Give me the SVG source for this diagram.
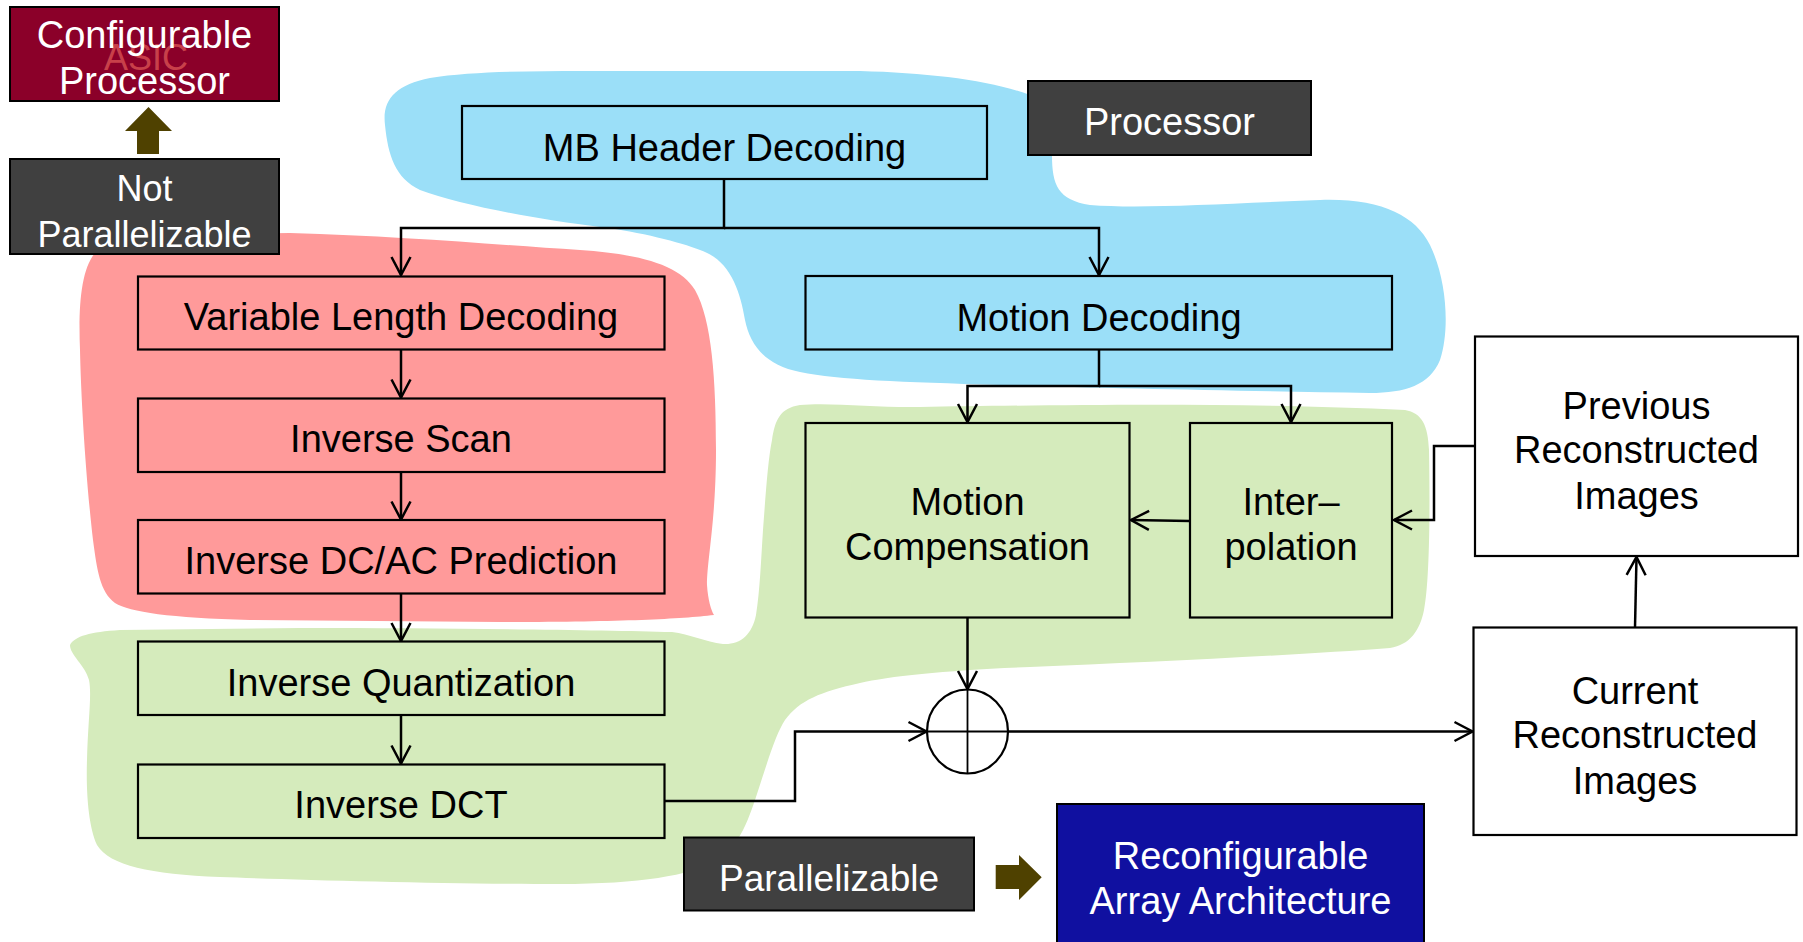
<svg xmlns="http://www.w3.org/2000/svg" width="1803" height="942" viewBox="0 0 1803 942">
<style>
text{font-family:"Liberation Sans",Arial,sans-serif;text-anchor:middle}
.lbl{font-size:38px;fill:#000}
.wl{fill:#fff}
.box{stroke:#000;stroke-width:2.2}
.blue{fill:#9BDFF8}
.red{fill:#FF9A9A}
.green{fill:#D5EBBC}
.white{fill:#fff}
.dark{fill:#404040;stroke:#000;stroke-width:2}
.con{fill:none;stroke:#000;stroke-width:2.5}
.arr{marker-end:url(#a)}
</style>
<defs>
<marker id="a" viewBox="-21 -12 24 24" markerWidth="24" markerHeight="24" refX="0" refY="0" orient="auto" markerUnits="userSpaceOnUse">
<path d="M-18,-9.5 L0,0 L-18,9.5" fill="none" stroke="#000" stroke-width="2.5"/>
</marker>
</defs>
<g id="regions">
<path id="region-processor" class="blue" d="M385,125 C382,100 395,85 430,78 C480,70 560,71 620,71 L860,71 C930,73 990,80 1030,95 L1052,155 C1052,185 1058,200 1090,205 C1140,209 1220,204 1320,200 C1380,198 1415,215 1430,245 C1447,280 1450,330 1440,360 C1430,385 1405,393 1370,393 C1250,391 1100,388 1000,385 C900,382 840,380 800,372 C765,365 750,345 745,320 C740,290 730,260 700,250 C680,242 640,232 600,227 C540,220 460,205 420,190 C395,178 388,155 385,125 Z"/>
<path id="region-asic" class="red" d="M80,350 C78,300 82,262 100,248 C115,238 150,235 200,234 L290,233 C400,236 500,245 580,250 C640,254 680,265 695,290 C712,320 716,380 716,450 C716,520 707,560 707,585 C708,600 711,610 714,615 C680,619 620,622 500,622 L250,620 C170,618 130,612 115,603 C100,592 97,570 93,540 C86,480 81,400 80,350 Z"/>
<path id="region-array" class="green" d="M70,645 C75,636 90,632 120,630 L300,628 C450,628 600,630 672,632 C690,634 705,642 723,644 C740,645 752,635 756,615 C760,590 761,560 763,530 C766,490 768,460 772,440 C775,420 780,408 800,405 C830,402 880,408 920,407 C1050,405 1250,402 1405,410 C1422,413 1428,425 1429,450 C1430,500 1430,580 1424,610 C1420,630 1410,645 1390,648 C1300,655 1150,662 1030,667 C950,670 890,676 860,683 C820,692 800,700 785,720 C775,735 765,770 755,800 C745,830 735,850 715,862 C690,875 640,884 560,884 C450,884 300,880 220,877 C150,874 110,866 97,845 C88,825 86,790 87,760 C88,720 92,695 89,680 C85,665 70,655 70,645 Z"/>
</g>
<g id="connectors">
<path class="con" d="M724,179 V228 H401 V275" marker-end="url(#a)"/>
<path class="con" d="M724,228 H1099 V275" marker-end="url(#a)"/>
<path class="con arr" d="M401,349.5 V397.5"/>
<path class="con arr" d="M401,472 V519.5"/>
<path class="con arr" d="M401,593.5 V641"/>
<path class="con arr" d="M401,715 V763.5"/>
<path class="con" d="M1099,349.5 V386 H967.5 V422" marker-end="url(#a)"/>
<path class="con" d="M1099,386 H1291 V422" marker-end="url(#a)"/>
<path class="con arr" d="M1190,521 L1131,520"/>
<path class="con arr" d="M1475,446 H1434 V520 H1394"/>
<path class="con arr" d="M967.5,618 V689"/>
<path class="con arr" d="M664,801 H795 V731.5 H926.5"/>
<path class="con arr" d="M1008,731.5 H1472.5"/>
<path class="con arr" d="M1635,627.5 L1636.5,557"/>
</g>
<g id="sum">
<ellipse cx="967.5" cy="731.5" rx="40.5" ry="42" fill="none" stroke="#000" stroke-width="2.2"/>
<path d="M967.5,689.5 V773.5 M927,731.5 H1008" fill="none" stroke="#000" stroke-width="1.8"/>
</g>
<g id="mb-header">
<rect class="box blue" x="462" y="106" width="525" height="73"/>
<text class="lbl" x="724.5" y="160.5">MB Header Decoding</text>
</g>
<g id="motion-decoding">
<rect class="box blue" x="805.5" y="276" width="586.5" height="73.5"/>
<text class="lbl" x="1099" y="330.5">Motion Decoding</text>
</g>
<g id="vld">
<rect class="box red" x="138" y="276.5" width="526.5" height="73"/>
<text class="lbl" x="401" y="330">Variable Length Decoding</text>
</g>
<g id="inverse-scan">
<rect class="box red" x="138" y="398.5" width="526.5" height="73.5"/>
<text class="lbl" x="401" y="451.5">Inverse Scan</text>
</g>
<g id="dcac">
<rect class="box red" x="138" y="520" width="526.5" height="73.5"/>
<text class="lbl" x="401" y="573.5">Inverse DC/AC Prediction</text>
</g>
<g id="inverse-quant">
<rect class="box green" x="138" y="641.5" width="526.5" height="73.5"/>
<text class="lbl" x="401" y="695.5">Inverse Quantization</text>
</g>
<g id="inverse-dct">
<rect class="box green" x="138" y="764.5" width="526.5" height="73.5"/>
<text class="lbl" x="401" y="818">Inverse DCT</text>
</g>
<g id="motion-comp">
<rect class="box green" x="805.5" y="423" width="324" height="194.5"/>
<text class="lbl" x="967.5" y="515">Motion</text>
<text class="lbl" x="967.5" y="560">Compensation</text>
</g>
<g id="interp">
<rect class="box green" x="1190" y="423" width="202" height="194.5"/>
<text class="lbl" x="1291" y="515">Inter–</text>
<text class="lbl" x="1291" y="560">polation</text>
</g>
<g id="prev-rec">
<rect class="box white" x="1475" y="336.5" width="323" height="219.5"/>
<text class="lbl" x="1636.5" y="419">Previous</text>
<text class="lbl" x="1636.5" y="463">Reconstructed</text>
<text class="lbl" x="1636.5" y="508.5">Images</text>
</g>
<g id="cur-rec">
<rect class="box white" x="1473.5" y="627.5" width="323" height="207.5"/>
<text class="lbl" x="1635" y="704">Current</text>
<text class="lbl" x="1635" y="748">Reconstructed</text>
<text class="lbl" x="1635" y="793.5">Images</text>
</g>
<g id="processor-label">
<rect class="dark" x="1028" y="81" width="283" height="74"/>
<text class="wl" font-size="38" x="1169.5" y="135">Processor</text>
</g>
<g id="configurable-processor">
<rect x="10" y="7" width="269" height="94" fill="#8B0029" stroke="#000" stroke-width="2"/>
<text font-size="36" fill="#C8404A" x="146" y="70">ASIC</text>
<text class="wl" font-size="38" x="144.5" y="48">Configurable</text>
<text class="wl" font-size="38" x="144.5" y="93.5">Processor</text>
</g>
<g id="up-arrow">
<path d="M137,154 L137,131 L125,131 L148.5,107 L172,131 L159,131 L159,154 Z" fill="#4F4100"/>
</g>
<g id="not-parallelizable">
<rect class="dark" x="10" y="159" width="269" height="95"/>
<text class="wl" font-size="36" x="144.5" y="201">Not</text>
<text class="wl" font-size="36" x="144.5" y="246.5">Parallelizable</text>
</g>
<g id="parallelizable">
<rect class="dark" x="684" y="837.5" width="290" height="73"/>
<text class="wl" font-size="37" x="829" y="891">Parallelizable</text>
</g>
<g id="right-arrow">
<path d="M995.7,865 H1019 V855 L1041.7,877.3 L1019,900 V889 H995.7 Z" fill="#4F4100"/>
</g>
<g id="raa">
<rect x="1057" y="804" width="367" height="150" fill="#1010A0" stroke="#000" stroke-width="2"/>
<text class="wl" font-size="38" x="1240.5" y="869">Reconfigurable</text>
<text class="wl" font-size="38" x="1240.5" y="913.5">Array Architecture</text>
</g>
</svg>
